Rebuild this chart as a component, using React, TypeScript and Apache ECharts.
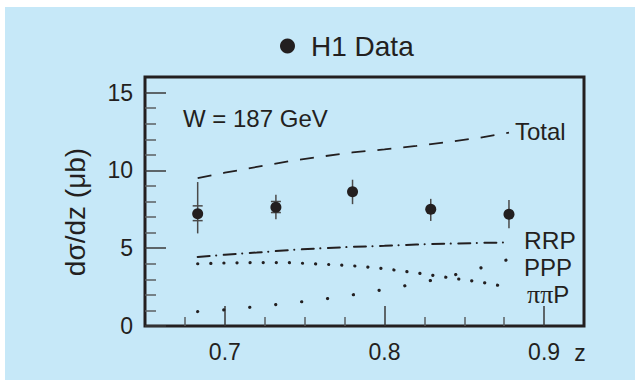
import React, { useEffect, useRef } from "react";
import * as echarts from "echarts";

// ---- data ----
const dataZ = [0.683, 0.732, 0.78, 0.829, 0.878];
const dataY = [7.22, 7.63, 8.62, 7.5, 7.18];
const errLo = [5.95, 6.86, 7.83, 6.75, 6.28];
const errHi = [9.25, 8.43, 9.4, 8.17, 8.09];
const statLo = [6.77, 7.29, NaN, NaN, NaN];
const statHi = [7.72, 8.0, NaN, NaN, NaN];

const modelZ = [0.683, 0.7, 0.72, 0.74, 0.76, 0.78, 0.8, 0.82, 0.84, 0.86, 0.878];
const totalY = [9.5, 9.85, 10.22, 10.58, 10.88, 11.15, 11.35, 11.57, 11.83, 12.1, 12.42];
const rrpY = [4.44, 4.58, 4.72, 4.88, 4.99, 5.09, 5.15, 5.24, 5.29, 5.34, 5.37];
const pppY = [0.93, 1.04, 1.25, 1.46, 1.7, 2.0, 2.35, 2.72, 3.18, 3.72, 4.29];
const pipiY = [4.0, 4.05, 4.08, 4.07, 3.98, 3.87, 3.68, 3.41, 3.11, 2.83, 2.48];

const xMinorTicks = [0.675, 0.725, 0.75, 0.775, 0.825, 0.85, 0.875];
const xMajorTicks = [0.7, 0.8, 0.9];
const yMinorTicks = [1, 2, 3, 4, 6, 7, 8, 9, 11, 12, 13, 14];
const yMajorTicks = [0, 5, 10, 15];

const FONT = "'Liberation Sans', Arial, Helvetica, sans-serif";
const INK = "#231f20";

export default function App() {
  const ref = useRef<HTMLDivElement>(null);
  useEffect(() => {
    document.body.style.margin = "0";
    const chart = echarts.init(ref.current!, undefined, { renderer: "svg" });
    const pair = (xs: number[], ys: number[]) => xs.map((x, i) => [x, ys[i]]);
    const baseX = {
      type: "value" as const,
      min: 0.65,
      max: 0.925,
      interval: 0.025,
      position: "bottom" as const,
      axisLine: { show: false },
      splitLine: { show: false },
    };
    const baseY = {
      type: "value" as const,
      min: 0,
      max: 16,
      interval: 1,
      position: "left" as const,
      axisLine: { show: false },
      splitLine: { show: false },
    };
    chart.setOption({
      animation: false,
      backgroundColor: "#c6e8f8",
      textStyle: { fontFamily: FONT, color: INK },
      legend: {
        left: 270,
        top: 20,
        icon: "circle",
        itemWidth: 15,
        itemHeight: 15,
        data: ["H1 Data"],
        formatter: "{a|{name}}",
        itemStyle: { color: INK, opacity: 1 },
        textStyle: {
          rich: {
            a: { fontSize: 28, fontFamily: FONT, color: INK, padding: [0, 0, 0, 11] },
          },
        },
      },
      grid: {
        left: 140,
        right: 51,
        top: 70,
        bottom: 54,
        show: true,
        borderColor: INK,
        borderWidth: 3,
        backgroundColor: "transparent",
      },
      xAxis: [
        {
          ...baseX,
          axisTick: {
            inside: true,
            length: 9,
            customValues: xMinorTicks,
            lineStyle: { color: "#5a5f62", width: 1.5 },
          },
          axisLabel: {
            customValues: xMajorTicks,
            formatter: (v: number) => v.toFixed(1),
            fontSize: 23,
            margin: 14,
            color: INK,
            fontFamily: FONT,
          },
        },
        {
          ...baseX,
          axisTick: {
            inside: true,
            length: 20,
            customValues: xMajorTicks,
            lineStyle: { color: "#3a3a3a", width: 1.5 },
          },
          axisLabel: { show: false },
        },
      ],
      yAxis: [
        {
          ...baseY,
          axisTick: {
            inside: true,
            length: 11,
            customValues: yMinorTicks,
            lineStyle: { color: "#5a5f62", width: 1.5 },
          },
          axisLabel: {
            customValues: yMajorTicks,
            fontSize: 23,
            margin: 12,
            color: INK,
            fontFamily: FONT,
          },
        },
        {
          ...baseY,
          axisTick: {
            inside: true,
            length: 21,
            customValues: yMajorTicks,
            lineStyle: { color: "#3a3a3a", width: 1.5 },
          },
          axisLabel: { show: false },
        },
      ],
      series: [
        {
          name: "Total",
          type: "line",
          data: pair(modelZ, totalY),
          showSymbol: false,
          symbol: "none",
          lineStyle: { color: INK, width: 1.8, type: [14, 12] },
          z: 2,
        },
        {
          name: "RRP",
          type: "line",
          data: pair(modelZ, rrpY),
          symbol: "none",
          lineStyle: { color: INK, width: 2, type: [12, 6.5, 0.1, 7.5], cap: "round" },
          z: 2,
        },
        {
          name: "PPP",
          type: "line",
          data: pair(modelZ, pppY),
          symbol: "none",
          lineStyle: { color: INK, width: 3.2, type: [0.1, 26], cap: "round" },
          z: 2,
        },
        {
          name: "ππP",
          type: "line",
          data: pair(modelZ, pipiY),
          symbol: "none",
          lineStyle: { color: INK, width: 3.2, type: [0.1, 13], cap: "round" },
          z: 2,
        },
        {
          name: "errors",
          type: "custom",
          data: dataZ.map((z, i) => [z, dataY[i], errLo[i], errHi[i], statLo[i], statHi[i]]),
          encode: { x: 0, y: 1 },
          z: 3,
          renderItem: (_params: any, api: any) => {
            const z = api.value(0);
            const lo = api.coord([z, api.value(2)]);
            const hi = api.coord([z, api.value(3)]);
            const style = { stroke: "#4a4a4a", lineWidth: 1.5 };
            const children: any[] = [
              { type: "line", shape: { x1: lo[0], y1: lo[1], x2: hi[0], y2: hi[1] }, style },
            ];
            const sl = api.value(4);
            const sh = api.value(5);
            if (!isNaN(sl) && !isNaN(sh)) {
              const a = api.coord([z, sl]);
              const b = api.coord([z, sh]);
              children.push({ type: "line", shape: { x1: a[0] - 5, y1: a[1], x2: a[0] + 5, y2: a[1] }, style });
              children.push({ type: "line", shape: { x1: b[0] - 5, y1: b[1], x2: b[0] + 5, y2: b[1] }, style });
            }
            return { type: "group", children };
          },
        },
        {
          name: "H1 Data",
          type: "scatter",
          data: pair(dataZ, dataY),
          symbol: "circle",
          symbolSize: 11,
          itemStyle: { color: INK, opacity: 1 },
          z: 4,
        },
      ],
      graphic: [
        {
          type: "text",
          left: 178,
          top: 99,
          style: { text: "W = 187 GeV", fontSize: 24, fontFamily: FONT, fill: INK },
        },
        {
          type: "text",
          x: 510,
          y: 124.7,
          style: { text: "Total", fontSize: 24, fontFamily: FONT, fill: INK, verticalAlign: "middle" },
        },
        {
          type: "text",
          x: 519,
          y: 233,
          style: { text: "RRP", fontSize: 24.5, fontFamily: FONT, fill: INK, verticalAlign: "middle" },
        },
        {
          type: "text",
          x: 519,
          y: 260.5,
          style: { text: "PPP", fontSize: 24, fontFamily: FONT, fill: INK, verticalAlign: "middle" },
        },
        {
          type: "text",
          x: 522,
          y: 287.7,
          style: {
            text: "{pi|ππ}{p|P}",
            verticalAlign: "middle",
            rich: {
              pi: { fontSize: 26, fontFamily: "'Liberation Serif', 'DejaVu Serif', serif", fill: INK, color: INK },
              p: { fontSize: 24, fontFamily: FONT, fill: INK, color: INK },
            },
          },
        },
        {
          type: "text",
          x: 575,
          y: 346,
          style: { text: "z", fontSize: 23, fontFamily: FONT, fill: INK, align: "center", verticalAlign: "middle" },
        },
        {
          type: "text",
          x: 70,
          y: 205,
          rotation: Math.PI / 2,
          style: {
            text: "dσ/dz (μb)",
            fontSize: 28,
            fontFamily: FONT,
            fill: INK,
            align: "center",
            verticalAlign: "middle",
          },
        },
      ],
    });
    return () => chart.dispose();
  }, []);
  return (
    <div style={{ position: "relative", width: 635, height: 383, background: "#ffffff" }}>
      <div ref={ref} style={{ position: "absolute", left: 5, top: 7, width: 630, height: 373 }} />
    </div>
  );
}
